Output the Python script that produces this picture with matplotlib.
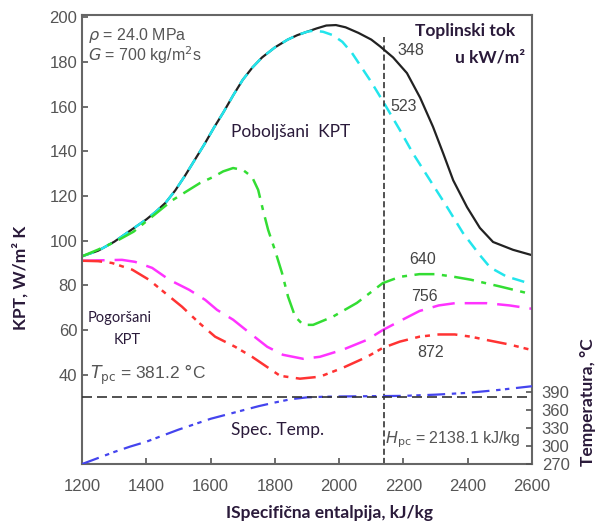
import numpy as np
import matplotlib.pyplot as plt

# entalpija (kJ/kg) i KPT (W/m2K) ocitani sa slike
h_348 = [1200, 1250, 1300, 1350, 1400, 1430, 1460, 1490, 1520, 1550, 1580, 1610, 1640, 1670,
         1700, 1730, 1760, 1800, 1840, 1870, 1900, 1930, 1960, 1990, 2020, 2060, 2100, 2127,
         2168, 2211, 2252, 2292, 2324, 2355, 2398, 2438, 2479, 2541, 2600]
k_348 = [93, 95.5, 99.5, 104.5, 109.5, 113, 117, 122.5, 129, 136, 143, 150.5, 157.5, 165,
         172, 177.5, 182, 186.5, 190, 192, 193.5, 195, 196.3, 196.5, 195.5, 193, 190, 187,
         182, 175, 164, 151, 139, 127, 115, 105.7, 99.4, 95.9, 93.5]

h_523 = [1200, 1250, 1300, 1350, 1400, 1430, 1460, 1490, 1520, 1550, 1580, 1610, 1640, 1670,
         1700, 1730, 1760, 1800, 1840, 1870, 1900, 1920, 1950, 1980, 2010, 2040, 2070, 2100,
         2138, 2189, 2230, 2283, 2336, 2385, 2438, 2470, 2520, 2600]
k_523 = [93, 95.5, 99.5, 104.5, 109.5, 113, 117, 122.5, 129, 136, 143, 150.5, 157.5, 165,
         172, 177.5, 182, 186.5, 190, 192, 193.5, 194, 193.5, 192, 189, 184, 177.5, 171,
         162, 149.5, 139, 127, 115, 103.5, 93.5, 88, 84, 80.5]

h_640 = [1200, 1250, 1303, 1360, 1420, 1480, 1530, 1567, 1608, 1639, 1670, 1701, 1729, 1748,
         1763, 1779, 1800, 1822, 1841, 1863, 1888, 1919, 1981, 2055, 2136, 2189, 2250, 2300,
         2350, 2410, 2500, 2600]
k_640 = [93, 96, 99.5, 104, 111, 118, 122.5, 125.8, 128.5, 131, 132.5, 131.6, 128.5, 122.7,
         113.7, 104.8, 95.8, 85.6, 74.9, 66, 62.3, 62.3, 66, 72.1, 81, 83.8, 85, 85,
         84, 82.5, 79.5, 76]

h_756 = [1200, 1260, 1324, 1365, 1418, 1471, 1533, 1583, 1620, 1670, 1723, 1776, 1825, 1888,
         1940, 2012, 2087, 2136, 2189, 2250, 2310, 2360, 2460, 2530, 2600]
k_756 = [91, 91.2, 91.4, 90.5, 87.8, 82.5, 78, 73.5, 69, 64.6, 58.5, 52.5, 48.9, 47.1,
         48, 51.2, 55.6, 60, 64, 68.5, 71, 72, 72, 71, 69.5]

h_872 = [1200, 1250, 1293, 1356, 1408, 1458, 1511, 1564, 1614, 1676, 1729, 1770, 1816, 1878,
         1940, 2012, 2087, 2136, 2189, 2250, 2310, 2360, 2410, 2460, 2530, 2600]
k_872 = [91, 90.8, 90, 87, 82.5, 76.6, 70.4, 63.2, 57, 52.5, 48, 44, 39.5, 38.2,
         39.1, 43.1, 48, 52, 54.8, 57, 58, 58, 57, 55.5, 53.5, 51]

# temperatura (°C)
h_temp = [1200, 1250, 1300, 1350, 1400, 1450, 1500, 1550, 1600, 1650, 1700, 1750, 1800, 1850,
          1900, 1950, 2000, 2100, 2200, 2300, 2400, 2500, 2600]
t_temp = [270, 280, 290, 299, 307, 317, 327, 336, 345, 352, 359, 366, 372, 377.5,
          380.5, 381.5, 382, 382.5, 383, 385, 388, 393, 399]

T_pc = 381.2
H_pc = 2138.1

siva = "#555555"
fig = plt.figure(figsize=(5.95, 5.27), dpi=100)
ax = fig.add_axes([0.138, 0.1195, 0.756, 0.852])

ax.plot(h_348, k_348, color="#222222", lw=1.6)
ax.plot(h_523, k_523, color="#22e5ec", lw=1.8, ls=(0, (5, 3)))
ax.plot(h_640, k_640, color="#33dd33", lw=1.8, ls=(0, (8, 3, 2, 3)))
ax.plot(h_756, k_756, color="#ff33ff", lw=1.8, ls=(0, (9, 4)))
ax.plot(h_872, k_872, color="#ff3333", lw=1.8, ls=(0, (8, 3, 2, 2, 2, 3)))
ax.plot([H_pc, H_pc], [0, 191], color="#222222", lw=1.1, ls=(0, (4, 2)))

ax.set_xlim(1200, 2600)
ax.set_ylim(0, 201)
ax.set_xticks(range(1200, 2601, 200))
ax.set_yticks(range(40, 201, 20))
ax.tick_params(direction="in", colors=siva, labelsize=12, length=4, width=1.2)
ax.tick_params(axis="x", pad=11)
for s in ax.spines.values():
    s.set_color("#666666")
    s.set_linewidth(1.5)
for lab in ax.get_xticklabels() + ax.get_yticklabels():
    lab.set_family("Liberation Sans")

ax2 = ax.twinx()
ax2.plot(h_temp, t_temp, color="#4444ee", lw=1.6, ls=(0, (8, 3, 2, 2, 2, 3)))
ax2.axhline(T_pc, color="#333333", lw=1.2, ls=(0, (6, 3)))
ax2.set_ylim(270, 270 + 201 * 120 / 32.4)
ax2.set_yticks([270, 300, 330, 360, 390])
ax2.tick_params(direction="in", colors=siva, labelsize=12, length=4, width=1.2, pad=7)
for lab in ax2.get_yticklabels():
    lab.set_family("Liberation Sans")
for s in ax2.spines.values():
    s.set_visible(False)

# tekstovi
txt = dict(family="Liberation Sans", color=siva, fontsize=11.5, va="center")
ax.text(1219, 192, r"$\rho$ = 24.0 MPa", **txt)
ax.text(1219, 183, r"$G$ = 700 kg/m$^2$s", **txt)
ax.text(1225, 40, r"$T_{\rm pc}$ = 381.2 $\degree$C", family="Liberation Sans", color=siva, fontsize=12.5, va="center")
ax.text(2143, 11, r"$H_{\rm pc}$ = 2138.1 kJ/kg", family="Liberation Sans", color=siva, fontsize=11.5, va="center")

brojevi = ["348", "523", "640", "756", "872"]
bx = [2223, 2202, 2261, 2267, 2286]
by = [185, 160, 91.4, 74.9, 49.8]
for b, x, y in zip(brojevi, bx, by):
    ax.text(x, y, b, ha="center", va="center", fontsize=11.5, color="#444444", family="Liberation Sans")

tamna = "#2a1a3a"
ax.text(1850, 148.6, "Poboljšani  KPT", ha="center", va="center", fontsize=12.5, color=tamna, family="Lato")
ax.text(1318, 65.5, "Pogoršani", ha="center", va="center", fontsize=10.5, color=tamna, family="Lato")
ax.text(1340, 55.6, "KPT", ha="center", va="center", fontsize=10.5, color=tamna, family="Lato")
ax.text(1807, 15.4, "Spec. Temp.", ha="center", va="center", fontsize=12.5, color=tamna, family="Lato")
ax.text(2391, 194, "Toplinski tok", ha="center", va="center", fontsize=12.5, color=tamna,
        family="Lato", fontweight="bold")
ax.text(2469, 182, "u kW/m²", ha="center", va="center", fontsize=12.5, color=tamna,
        family="Lato", fontweight="bold")

fig.text(0.034, 0.472, "KPT, W/m² K", rotation=90, ha="center", va="center", fontsize=12.5,
         color=tamna, family="Lato", fontweight="bold")
fig.text(0.988, 0.237, "Temperatura, °C", rotation=90, ha="center", va="center", fontsize=12.5,
         color=tamna, family="Lato", fontweight="bold")
fig.text(0.553, 0.027, "ISpecifična entalpija, kJ/kg", ha="center", va="center", fontsize=12.5,
         color=tamna, family="Lato", fontweight="bold")

fig.savefig("out.png", dpi=100)
